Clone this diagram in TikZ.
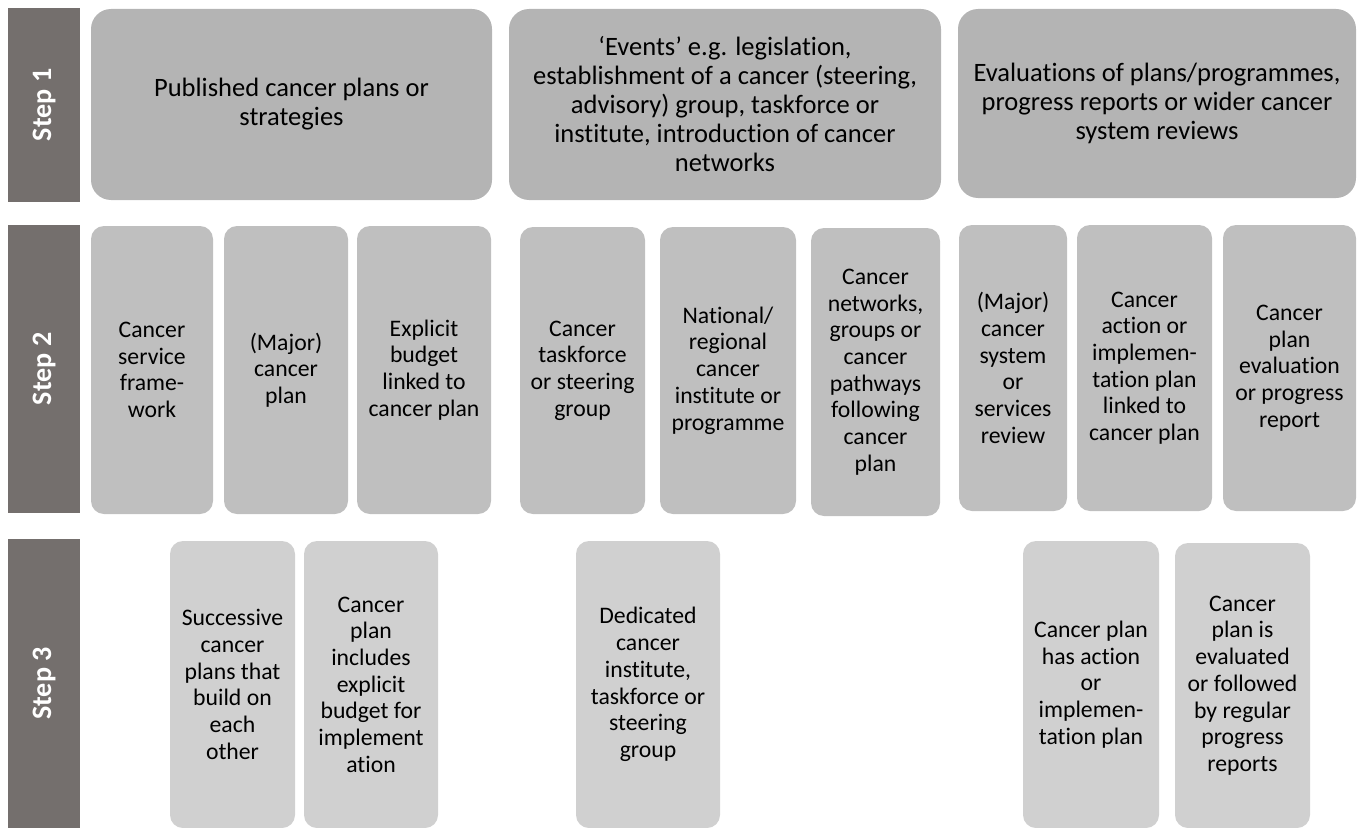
\documentclass[tikz,border=0pt]{standalone}
\usepackage{fontspec}
\setmainfont{Carlito}[Ligatures=NoCommon]
\usetikzlibrary{positioning}
\definecolor{stepgray}{RGB}{116, 111, 109}
\definecolor{tierone}{RGB}{180, 180, 180}
\definecolor{tiertwo}{RGB}{191, 191, 191}
\definecolor{tierthree}{RGB}{208, 208, 208}

\tikzset{
    % sizes are given in pixels of the layout grid
    cell/.style 2 args={minimum width=#1*0.02cm, minimum height=#2*0.02cm, inner sep=0pt, align=center},
    stepbar/.style={fill=stepgray, text=white, rotate=90, inner sep=0pt,
        font=\fontsize{16}{19}\selectfont\bfseries},
    tier1/.style={fill=tierone, rounded corners=0.4cm, font=\fontsize{15.1}{16.5}\selectfont},
    tier2/.style={fill=tiertwo, rounded corners=0.26cm, font=\fontsize{13.5}{15.2}\selectfont},
    tier3/.style={fill=tierthree, rounded corners=0.26cm, font=\fontsize{13.5}{15.2}\selectfont},
}

\begin{document}
\begin{tikzpicture}[x=0.02cm, y=-0.02cm]
        \useasboundingbox (0,0) rectangle (1362,828);

        % step labels on the left
        \node[stepbar, cell={194}{72}] (step1) at (44,105) {Step 1};
        \node[stepbar, cell={288}{72}] (step2) at (44,369) {Step 2};
        \node[stepbar, cell={289}{72}] (step3) at (44,683.5) {Step 3};

        % step 1
        \node[tier1, cell={401}{191}] (plans) at (291.5,104.5)
            {Published cancer plans or\\strategies};
        \node[tier1, cell={432}{191}] (events) at (725,104.5)
            {‘Events’ e.g. legislation,\\establishment of a cancer (steering,\\advisory) group, taskforce or\\institute, introduction of cancer\\networks};
        \node[tier1, cell={398}{189}] (evals) at (1157,103.5)
            {Evaluations of plans/programmes,\\progress reports or wider cancer\\system reviews};

        % step 2
        \node[tier2, cell={122}{288}] (framework) at (152,370)
            {Cancer\\service\\frame-\\work};
        \node[tier2, cell={124}{288}] (majorplan) at (286,370)
            {(Major)\\cancer\\plan};
        \node[tier2, cell={134}{288}] (budget) at (424,370)
            {Explicit\\budget\\linked to\\cancer plan};
        \node[tier2, cell={125}{287}] (taskforce) at (582.5,370.5)
            {Cancer\\taskforce\\or steering\\group};
        \node[tier2, cell={136}{287}] (institute) at (728,370.5)
            {National/\\regional\\cancer\\institute or\\programme};
        \node[tier2, cell={129}{288}] (networks) at (875.5,372)
            {Cancer\\networks,\\groups or\\cancer\\pathways\\following\\cancer\\plan};
        \node[tier2, cell={108}{286}] (review) at (1013,368)
            {(Major)\\cancer\\system\\or\\services\\review};
        \node[tier2, cell={135}{286}] (action) at (1144.5,368)
            {Cancer\\action or\\implemen-\\tation plan\\linked to\\cancer plan};
        \node[tier2, cell={133}{286}] (report) at (1289.5,368)
            {Cancer\\plan\\evaluation\\or progress\\report};

        % step 3
        \node[tier3, cell={125}{287}] (successive) at (232.5,684.5)
            {Successive\\cancer\\plans that\\build on\\each\\other};
        \node[tier3, cell={134}{287}] (includes) at (371,684.5)
            {Cancer\\plan\\includes\\explicit\\budget for\\implement\\ation};
        \node[tier3, cell={144}{287}] (dedicated) at (648,684.5)
            {Dedicated\\cancer\\institute,\\taskforce or\\steering\\group};
        \node[tier3, cell={136}{287}] (hasaction) at (1091,684.5)
            {Cancer plan\\has action\\or\\implemen-\\tation plan};
        \node[tier3, cell={135}{285}] (evaluated) at (1242.5,685.5)
            {Cancer\\plan is\\evaluated\\or followed\\by regular\\progress\\reports};

    \end{tikzpicture}
\end{document}
